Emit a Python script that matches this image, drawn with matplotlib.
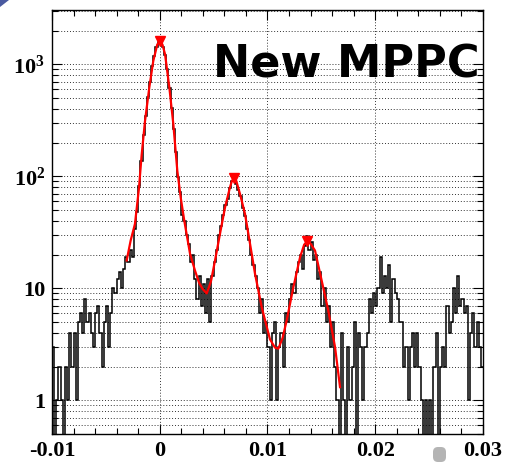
import numpy as np
import matplotlib
matplotlib.use("Agg")
import matplotlib.pyplot as plt
from matplotlib.ticker import MultipleLocator, LogLocator, NullFormatter, FixedLocator
from matplotlib.patches import Polygon, FancyBboxPatch

OUT = "out.png"

# Charge spectrum: 200 bins of 0.0002 between -0.01 and 0.03
BIN_LO, BIN_HI, N_BINS = -0.01, 0.03, 200
COUNTS = [
    3, 0, 1, 2, 1, 0, 2, 1, 4, 2,
    4, 1, 5, 6, 4, 8, 5, 6, 4, 3,
    6, 7, 4, 2, 5, 7, 3, 6, 10, 9,
    12, 14, 10, 15, 19, 17, 22, 19, 34, 48,
    82, 138, 235, 345, 505, 690, 960, 1190, 1430, 1590,
    1570, 1440, 1210, 905, 620, 410, 265, 165, 98, 72,
    45, 40, 30, 25, 17, 20, 12, 8, 13, 7,
    11, 6, 12, 5, 13, 17, 22, 30, 36, 45,
    55, 63, 78, 90, 98, 86, 75, 66, 52, 44,
    34, 27, 20, 16, 13, 10, 6, 8, 4, 5,
    3, 1, 4, 5, 1, 3, 4, 2, 6, 5,
    8, 11, 9, 14, 17, 20, 15, 24, 29, 22,
    26, 18, 20, 12, 14, 7, 10, 5, 7, 3,
    5, 2, 1, 0, 4, 1, 0, 3, 1, 2,
    5, 0, 4, 3, 1, 3, 4, 8, 6, 9,
    7, 10, 19, 9, 13, 10, 16, 5, 12, 9,
    8, 5, 5, 2, 3, 1, 3, 4, 2, 4,
    2, 1, 0, 1, 0, 1, 0, 2, 4, 0,
    2, 3, 2, 7, 4, 5, 10, 6, 13, 7,
    8, 6, 7, 1, 4, 6, 3, 5, 3, 2,
]

# Fitted multi-peak function, sampled along the fit range
FIT_X = [-0.00307, -0.00270, -0.00230, -0.00193, -0.00168, -0.00137, -0.00097,
         -0.00060, -0.00023, 0.0, 0.00025, 0.00049, 0.00089, 0.00126, 0.00163,
         0.00195, 0.00228, 0.00281, 0.00327, 0.00365, 0.00400, 0.00436, 0.00475,
         0.00513, 0.00559, 0.00606, 0.00652, 0.0067, 0.0069, 0.0071, 0.00745,
         0.00791, 0.00838, 0.00884, 0.00946, 0.01023, 0.01070, 0.01101, 0.01140,
         0.01178, 0.0124, 0.01302, 0.0134, 0.0137, 0.0140, 0.01441, 0.01503,
         0.01564, 0.01627, 0.01673]
FIT_Y = [17.7, 26.7, 37.6, 78, 155, 310, 620,
         1070, 1500, 1600, 1500, 1230, 620, 292, 112,
         64, 40, 20.3, 14.4, 11.2, 9.8, 9.0, 11.5,
         17.7, 30.6, 52.8, 79.8, 91, 96, 91, 69.4,
         46.2, 24.9, 13.5, 6.8, 3.5, 2.95, 2.89, 3.6,
         5.16, 10.2, 18.9, 24.5, 26.3, 25.0, 21.7, 11.7,
         6.33, 2.98, 1.31]

# Peaks found by the peak search
PEAK_X = [0.0, 0.0069, 0.0137]
PEAK_Y = [1600, 96, 26.3]

XTICKS = [-0.01, 0.0, 0.01, 0.02, 0.03]
XTICK_LABELS = ["-0.01", "0", "0.01", "0.02", "0.03"]
YTICKS = [1, 10, 100, 1000]
YTICK_LABELS = ["1", "10", r"$10^{2}$", r"$10^{3}$"]


def main():
    plt.rcParams["font.family"] = ["Liberation Serif", "DejaVu Serif"]
    plt.rcParams["font.weight"] = "bold"
    plt.rcParams["mathtext.fontset"] = "custom"
    plt.rcParams["mathtext.rm"] = "Liberation Serif:bold"
    plt.rcParams["mathtext.default"] = "rm"

    W, H = 506, 462
    fig = plt.figure(figsize=(W / 100, H / 100), dpi=100, facecolor="white")
    ax = fig.add_axes([52 / W, 1 - 434 / H, 431 / W, 424 / H])

    edges = np.linspace(BIN_LO, BIN_HI, N_BINS + 1)
    ax.stairs(COUNTS, edges, baseline=None, color="black", linewidth=1.1, zorder=3)
    ax.plot(FIT_X, FIT_Y, color="#ff0000", linewidth=1.6, zorder=4)
    ax.plot(PEAK_X, PEAK_Y, linestyle="none", marker="v", markersize=7,
            color="#ff0000", zorder=5)

    ax.set_yscale("log")
    ax.set_xlim(BIN_LO, BIN_HI)
    ax.set_ylim(0.5, 3050)

    ax.xaxis.set_major_locator(FixedLocator(XTICKS))
    ax.set_xticklabels(XTICK_LABELS)
    ax.xaxis.set_minor_locator(MultipleLocator(0.002))
    ax.yaxis.set_major_locator(FixedLocator(YTICKS))
    ax.set_yticklabels(YTICK_LABELS)
    ax.yaxis.set_minor_locator(LogLocator(base=10, subs=np.arange(2, 10), numticks=20))
    ax.yaxis.set_minor_formatter(NullFormatter())

    ax.tick_params(which="both", direction="in", top=True, right=True,
                   colors="black", width=0.8, labelsize=16)
    ax.tick_params(which="major", length=7.5)
    ax.tick_params(which="minor", length=4)
    ax.tick_params(axis="x", pad=5)
    ax.tick_params(axis="y", pad=5)

    # dotted grid: every decade subdivision in y, major ticks only in x
    grid_kw = dict(color="#333333", linestyle=(0, (1, 2)), linewidth=0.7)
    ax.grid(True, which="both", axis="y", **grid_kw)
    ax.grid(True, which="major", axis="x", **grid_kw)
    ax.set_axisbelow(True)

    for spine in ax.spines.values():
        spine.set_color("black")
        spine.set_linewidth(1.0)

    fig.text(213 / W, 1 - 78 / H, "New MPPC", family="DejaVu Sans",
             fontweight="bold", fontsize=32, color="black", va="baseline", ha="left")

    # slide decorations around the plot
    fig.patches.append(Polygon([(0, H), (9, H), (0, H - 7)], closed=True,
                               transform=None, facecolor="#4a5aa0", edgecolor="none"))
    fig.patches.append(FancyBboxPatch((433, 0), 13, 15, boxstyle="round,pad=0,rounding_size=5",
                                      transform=None, facecolor="#b4b4b4", edgecolor="none"))

    fig.savefig(OUT, dpi=100, facecolor=fig.get_facecolor())
    plt.close(fig)


if __name__ == "__main__":
    main()
